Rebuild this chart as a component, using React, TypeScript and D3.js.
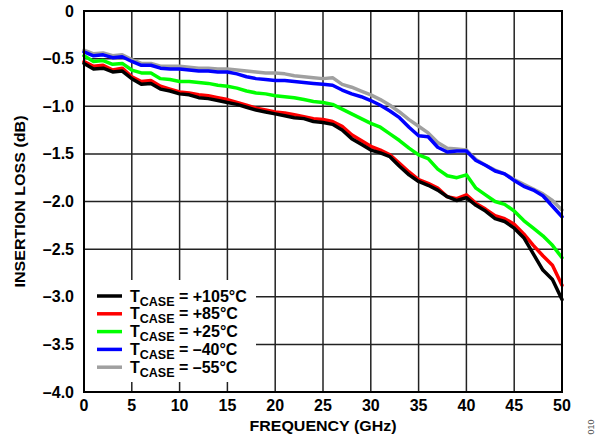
import React from "react";
import * as d3 from "d3";

const freq = d3.range(0, 51, 1);

const t105 = [-0.55, -0.61, -0.6, -0.64, -0.63, -0.71, -0.77, -0.76, -0.82, -0.84, -0.87, -0.88, -0.91, -0.92, -0.94, -0.96, -0.98, -1.01, -1.04, -1.06, -1.08, -1.1, -1.12, -1.13, -1.16, -1.17, -1.19, -1.25, -1.34, -1.4, -1.46, -1.49, -1.53, -1.63, -1.72, -1.79, -1.83, -1.88, -1.95, -1.99, -1.96, -2.04, -2.1, -2.18, -2.21, -2.28, -2.38, -2.55, -2.72, -2.82, -3.03];
const t85 = [-0.53, -0.58, -0.57, -0.62, -0.6, -0.69, -0.74, -0.73, -0.79, -0.82, -0.85, -0.86, -0.88, -0.89, -0.91, -0.93, -0.96, -0.99, -1.02, -1.04, -1.06, -1.07, -1.09, -1.11, -1.13, -1.14, -1.16, -1.21, -1.3, -1.36, -1.42, -1.46, -1.51, -1.6, -1.69, -1.77, -1.81, -1.86, -1.95, -1.97, -1.93, -2.02, -2.08, -2.15, -2.18, -2.24, -2.34, -2.46, -2.57, -2.67, -2.88];
const t25 = [-0.47, -0.53, -0.52, -0.56, -0.55, -0.62, -0.65, -0.65, -0.71, -0.72, -0.74, -0.74, -0.75, -0.76, -0.78, -0.79, -0.81, -0.84, -0.86, -0.87, -0.89, -0.9, -0.91, -0.93, -0.95, -0.96, -0.98, -1.03, -1.08, -1.13, -1.18, -1.22, -1.29, -1.36, -1.44, -1.51, -1.55, -1.66, -1.73, -1.75, -1.72, -1.86, -1.93, -2.0, -2.03, -2.1, -2.2, -2.28, -2.36, -2.46, -2.59];
const tm40 = [-0.43, -0.47, -0.46, -0.49, -0.48, -0.53, -0.57, -0.57, -0.6, -0.61, -0.61, -0.62, -0.63, -0.63, -0.64, -0.64, -0.66, -0.69, -0.71, -0.72, -0.73, -0.73, -0.74, -0.75, -0.76, -0.77, -0.78, -0.83, -0.87, -0.9, -0.94, -0.99, -1.05, -1.12, -1.22, -1.31, -1.32, -1.43, -1.48, -1.47, -1.47, -1.57, -1.62, -1.68, -1.71, -1.78, -1.84, -1.88, -1.94, -2.05, -2.16];
const tm55 = [-0.41, -0.45, -0.44, -0.47, -0.46, -0.51, -0.55, -0.55, -0.58, -0.58, -0.58, -0.59, -0.6, -0.6, -0.61, -0.61, -0.62, -0.63, -0.64, -0.65, -0.65, -0.66, -0.68, -0.69, -0.7, -0.71, -0.7, -0.77, -0.8, -0.84, -0.88, -0.93, -0.99, -1.06, -1.14, -1.21, -1.28, -1.38, -1.44, -1.45, -1.46, -1.56, -1.62, -1.67, -1.71, -1.77, -1.82, -1.87, -1.92, -1.99, -2.09];

const seriesNames = ["+105°C", "+85°C", "+25°C", "–40°C", "–55°C"];
const seriesColors = ["#000000", "#ff0000", "#00ff00", "#0000ff", "#a0a0a0"];
const seriesValues = [t105, t85, t25, tm40, tm55];

const xTicks = [0, 5, 10, 15, 20, 25, 30, 35, 40, 45, 50];
const yTicks = [0, -0.5, -1.0, -1.5, -2.0, -2.5, -3.0, -3.5, -4.0];

const W = 605;
const H = 444;
const L = 84;
const R = 562;
const T = 11;
const B = 392;
const FONT = "'Liberation Sans', Arial, sans-serif";

export default function App() {
  const x = d3.scaleLinear().domain([0, 50]).range([L, R]);
  const y = d3.scaleLinear().domain([-4, 0]).range([B, T]);
  const line = d3
    .line<number>()
    .x((_, i) => x(freq[i]))
    .y((d) => y(d))
    .curve(d3.curveLinear);

  const fmtY = (v: number) => (v === 0 ? "0" : "–" + Math.abs(v).toFixed(1));
  const drawOrder = [4, 3, 2, 1, 0];
  const legendTop = 296;
  const legendStep = 17.8;

  return (
    <svg
      width={W}
      height={H}
      style={{ position: "absolute", left: 0, top: 0, background: "#fff" }}
      fontFamily={FONT}
    >
      <rect x={0} y={0} width={W} height={H} fill="#fff" />
      {xTicks.map((t) => (
        <line key={"gx" + t} x1={x(t)} x2={x(t)} y1={T} y2={B} stroke="#222" strokeWidth={1.5} />
      ))}
      {yTicks.map((t) => (
        <line key={"gy" + t} x1={L} x2={R} y1={y(t)} y2={y(t)} stroke="#222" strokeWidth={1.5} />
      ))}
      {drawOrder.map((i) => (
        <path
          key={"s" + i}
          d={line(seriesValues[i]) || ""}
          fill="none"
          stroke={seriesColors[i]}
          strokeWidth={3.5}
          strokeLinejoin="round"
          strokeLinecap="round"
        />
      ))}
      <rect x={L} y={T} width={R - L} height={B - T} fill="none" stroke="#000" strokeWidth={2} />
      <rect x={L + 1} y={280} width={171} height={102} fill="#fff" />
      {seriesNames.map((n, i) => {
        const ly = legendTop + i * legendStep;
        return (
          <g key={"lg" + i}>
            <line x1={97} x2={122} y1={ly} y2={ly} stroke={seriesColors[i]} strokeWidth={3.5} />
            <text x={130} y={ly + 5.5} fontSize={16} fontWeight="bold" fill="#000">
              T
              <tspan fontSize={12.5} dy={4}>CASE</tspan>
              <tspan dy={-4}>{" = " + n}</tspan>
            </text>
          </g>
        );
      })}
      {yTicks.map((t) => (
        <text
          key={"yl" + t}
          x={74}
          y={y(t) + 5.5}
          textAnchor="end"
          fontSize={16}
          fontWeight="bold"
          fill="#000"
        >
          {fmtY(t)}
        </text>
      ))}
      {xTicks.map((t) => (
        <text
          key={"xl" + t}
          x={x(t)}
          y={411}
          textAnchor="middle"
          fontSize={16}
          fontWeight="bold"
          fill="#000"
        >
          {t}
        </text>
      ))}
      <text
        x={(L + R) / 2}
        y={431}
        textAnchor="middle"
        fontSize={15.5}
        fontWeight="bold"
        textLength={147}
        lengthAdjust="spacingAndGlyphs"
        fill="#000"
      >
        FREQUENCY (GHz)
      </text>
      <text
        transform={`translate(25, ${(T + B) / 2}) rotate(-90)`}
        textAnchor="middle"
        fontSize={15.5}
        fontWeight="bold"
        textLength={172}
        lengthAdjust="spacingAndGlyphs"
        fill="#000"
      >
        INSERTION LOSS (dB)
      </text>
      <text
        transform={`translate(594, 427) rotate(-90)`}
        textAnchor="middle"
        fontSize={9}
        fill="#555"
      >
        010
      </text>
    </svg>
  );
}
